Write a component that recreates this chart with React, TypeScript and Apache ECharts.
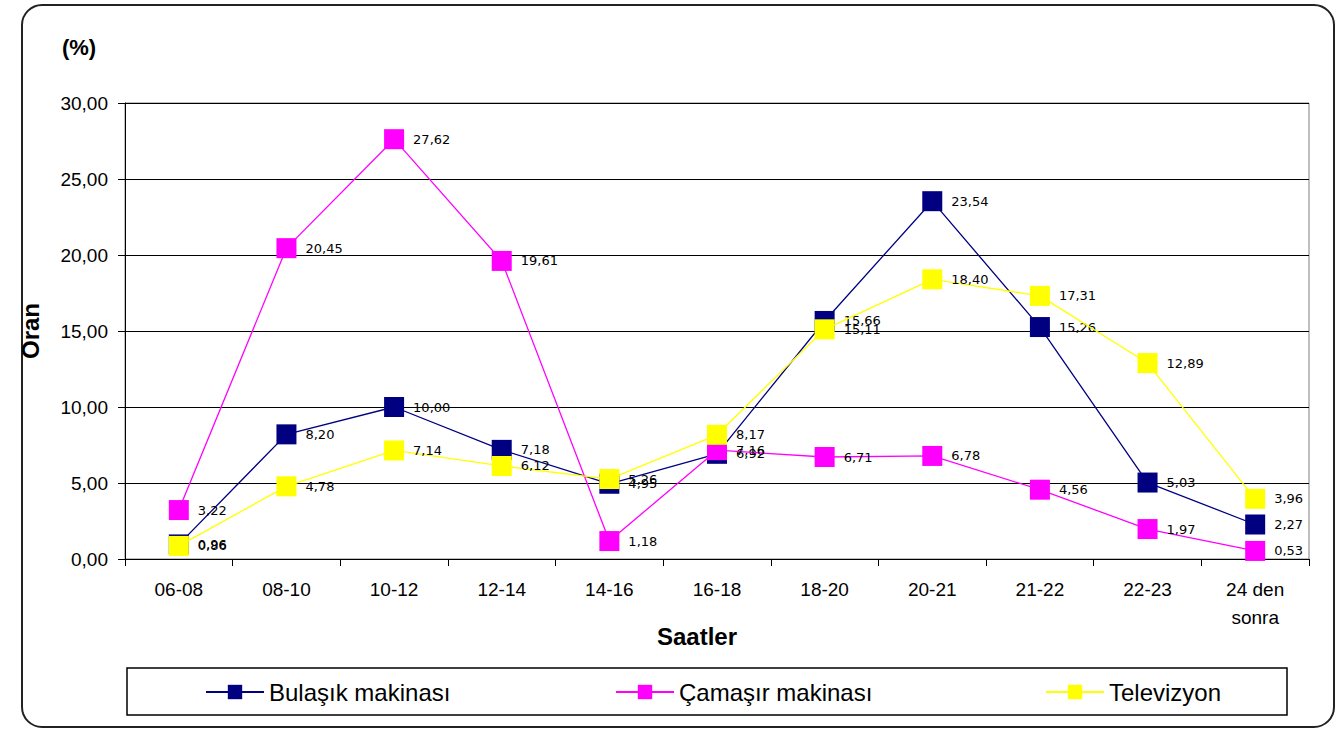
import React, { useEffect, useRef } from "react";
import * as echarts from "echarts";

const categories = ["06-08", "08-10", "10-12", "12-14", "14-16", "16-18", "18-20", "20-21", "21-22", "22-23", "24 den\nsonra"];
const bulasik = [0.96, 8.2, 10.0, 7.18, 4.95, 6.92, 15.66, 23.54, 15.26, 5.03, 2.27];
const camasir = [3.22, 20.45, 27.62, 19.61, 1.18, 7.16, 6.71, 6.78, 4.56, 1.97, 0.53];
const televizyon = [0.86, 4.78, 7.14, 6.12, 5.26, 8.17, 15.11, 18.4, 17.31, 12.89, 3.96];
const seriesNames = ["Bulaşık makinası", "Çamaşır makinası", "Televizyon"];
const seriesColors = ["#000080", "#FF00FF", "#FFFF00"];
const yTicks = { min: 0, max: 30, interval: 5 };

const fmt = (v: number) => v.toFixed(2).replace(".", ",");
const FONT = "'Liberation Sans', Arial, sans-serif";

export default function App() {
  const ref = useRef<HTMLDivElement>(null);
  useEffect(() => {
    if (!ref.current) return;
    const chart = echarts.init(ref.current, null, { renderer: "svg" });
    const datasets = [bulasik, camasir, televizyon];
    const legendLefts = [200, 610, 1040];
    chart.setOption({
      animation: false,
      backgroundColor: "#ffffff",
      textStyle: { fontFamily: FONT },
      grid: { left: 125, top: 103, width: 1184, height: 456, show: true, borderColor: "#808080", borderWidth: 1, backgroundColor: "transparent" },
      legend: seriesNames.map((n, i) => ({
        data: [n],
        left: legendLefts[i],
        top: 675,
        itemWidth: 58,
        itemHeight: 18,
        itemGap: 8,
        textStyle: { fontSize: 24, color: "#000", fontFamily: FONT },
        selectedMode: false,
      })),
      xAxis: {
        type: "category",
        data: categories,
        boundaryGap: true,
        axisLine: { lineStyle: { color: "#000", width: 1 } },
        axisTick: { show: true, length: 7, lineStyle: { color: "#000" } },
        axisLabel: { color: "#000", fontSize: 19, margin: 16, lineHeight: 28, fontFamily: FONT },
        splitLine: { show: false },
      },
      yAxis: {
        type: "value",
        min: yTicks.min,
        max: yTicks.max,
        interval: yTicks.interval,
        axisLine: { show: true, lineStyle: { color: "#000", width: 1 } },
        axisTick: { show: true, length: 7, lineStyle: { color: "#000" } },
        axisLabel: { color: "#000", fontSize: 19, margin: 17, formatter: (v: number) => fmt(v), fontFamily: FONT },
        splitLine: { show: true, lineStyle: { color: "#000", width: 1 } },
      },
      series: seriesNames.map((n, i) => ({
        name: n,
        type: "line",
        data: datasets[i],
        symbol: "rect",
        symbolSize: 20,
        color: seriesColors[i],
        itemStyle: { color: seriesColors[i], borderWidth: 0 },
        lineStyle: { color: seriesColors[i], width: 1.3 },
        label: {
          show: true,
          position: "right",
          distance: 9,
          color: "#000",
          fontSize: 13,
          fontFamily: "'DejaVu Sans', sans-serif",
          formatter: (p: any) => fmt(p.value),
        },
        emphasis: { disabled: true },
        z: 2 + i,
      })),
      graphic: [
        {
          type: "rect",
          shape: { x: 22, y: 5, width: 1312, height: 722, r: 20 },
          style: { fill: "none", stroke: "#222", lineWidth: 2 },
          silent: true,
        },
        {
          type: "rect",
          shape: { x: 127, y: 668, width: 1160, height: 47 },
          style: { fill: "none", stroke: "#000", lineWidth: 1.5 },
          silent: true,
        },
        {
          type: "text",
          x: 79,
          y: 47,
          style: { text: "(%)", font: "bold 22px 'Liberation Sans', Arial, sans-serif", fill: "#000", align: "center", verticalAlign: "middle" },
        },
        {
          type: "text",
          x: 30,
          y: 331,
          rotation: Math.PI / 2,
          style: { text: "Oran", font: "bold 24px 'Liberation Sans', Arial, sans-serif", fill: "#000", align: "center", verticalAlign: "middle" },
        },
        {
          type: "text",
          x: 697,
          y: 636,
          style: { text: "Saatler", font: "bold 24px 'Liberation Sans', Arial, sans-serif", fill: "#000", align: "center", verticalAlign: "middle" },
        },
      ],
    });
    return () => chart.dispose();
  }, []);
  return <div ref={ref} style={{ position: "fixed", left: 0, top: 0, width: 1340, height: 731 }} />;
}
